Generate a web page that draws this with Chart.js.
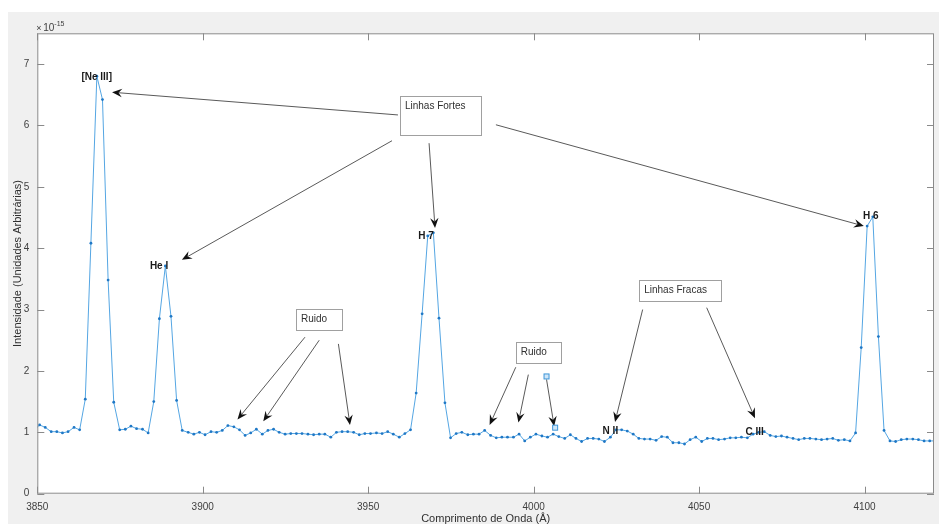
<!DOCTYPE html>
<html>
<head>
<meta charset="utf-8">
<script src="https://cdn.jsdelivr.net/npm/chart.js@4.4.1/dist/chart.umd.min.js"></script>
<style>
  html, body { margin: 0; padding: 0; background: #fff; }
  canvas { display: block; }
</style>
</head>
<body>
<canvas id="espectro" width="939" height="524"></canvas>
<script>
// comprimento de onda de cada amostra (Å)
const comprimentos = [
  3849.0, 3850.7, 3852.4, 3854.2, 3855.9, 3857.6, 3859.3, 3861.1, 3862.8, 3864.5,
  3866.2, 3868.0, 3869.7, 3871.4, 3873.1, 3874.9, 3876.6, 3878.3, 3880.0, 3881.8,
  3883.5, 3885.2, 3886.9, 3888.7, 3890.4, 3892.1, 3893.8, 3895.6, 3897.3, 3899.0,
  3900.7, 3902.5, 3904.2, 3905.9, 3907.6, 3909.4, 3911.1, 3912.8, 3914.5, 3916.2,
  3918.0, 3919.7, 3921.4, 3923.1, 3924.9, 3926.6, 3928.3, 3930.0, 3931.8, 3933.5,
  3935.2, 3936.9, 3938.7, 3940.4, 3942.1, 3943.8, 3945.6, 3947.3, 3949.0, 3950.7,
  3952.5, 3954.2, 3955.9, 3957.6, 3959.4, 3961.1, 3962.8, 3964.5, 3966.3, 3968.0,
  3969.7, 3971.4, 3973.2, 3974.9, 3976.6, 3978.3, 3980.1, 3981.8, 3983.5, 3985.2,
  3987.0, 3988.7, 3990.4, 3992.1, 3993.9, 3995.6, 3997.3, 3999.0, 4000.7, 4002.5,
  4004.2, 4005.9, 4007.6, 4009.4, 4011.1, 4012.8, 4014.5, 4016.3, 4018.0, 4019.7,
  4021.4, 4023.2, 4024.9, 4026.6, 4028.3, 4030.1, 4031.8, 4033.5, 4035.2, 4037.0,
  4038.7, 4040.4, 4042.1, 4043.9, 4045.6, 4047.3, 4049.0, 4050.8, 4052.5, 4054.2,
  4055.9, 4057.7, 4059.4, 4061.1, 4062.8, 4064.6, 4066.3, 4068.0, 4069.7, 4071.5,
  4073.2, 4074.9, 4076.6, 4078.4, 4080.1, 4081.8, 4083.5, 4085.3, 4087.0, 4088.7,
  4090.4, 4092.1, 4093.9, 4095.6, 4097.3, 4099.0, 4100.8, 4102.5, 4104.2, 4105.9,
  4107.7, 4109.4, 4111.1, 4112.8, 4114.6, 4116.3, 4118.0, 4119.7, 4121.5
];

// intensidade (x 1e-15, unidades arbitrárias)
const intensidades = [
  1.03, 1.12, 1.08, 1.01, 1.01, 0.99, 1.01, 1.08, 1.04, 1.54,
  4.08, 6.80, 6.42, 3.48, 1.49, 1.04, 1.05, 1.10, 1.06, 1.05,
  0.99, 1.50, 2.85, 3.71, 2.89, 1.52, 1.03, 1.00, 0.97, 1.00,
  0.96, 1.01, 1.00, 1.03, 1.11, 1.09, 1.04, 0.95, 0.99, 1.05,
  0.97, 1.03, 1.05, 1.00, 0.97, 0.98, 0.98, 0.98, 0.97, 0.96,
  0.97, 0.97, 0.92, 1.00, 1.01, 1.01, 1.00, 0.96, 0.98, 0.98,
  0.99, 0.98, 1.01, 0.97, 0.92, 0.98, 1.04, 1.64, 2.93, 4.20,
  4.25, 2.86, 1.48, 0.91, 0.98, 1.00, 0.96, 0.97, 0.97, 1.03,
  0.95, 0.91, 0.92, 0.92, 0.92, 0.97, 0.86, 0.92, 0.97, 0.94,
  0.92, 0.97, 0.93, 0.90, 0.96, 0.90, 0.85, 0.90, 0.90, 0.89,
  0.85, 0.92, 1.04, 1.04, 1.02, 0.97, 0.90, 0.89, 0.89, 0.87,
  0.93, 0.92, 0.83, 0.83, 0.81, 0.88, 0.92, 0.85, 0.90, 0.90,
  0.88, 0.89, 0.91, 0.91, 0.92, 0.91, 0.97, 1.00, 1.01, 0.95,
  0.93, 0.94, 0.92, 0.90, 0.88, 0.90, 0.90, 0.89, 0.88, 0.89,
  0.90, 0.87, 0.88, 0.86, 0.99, 2.38, 4.36, 4.51, 2.56, 1.03,
  0.86, 0.85, 0.88, 0.89, 0.89, 0.88, 0.86, 0.86, 0.86
];

const ticksX = [3850, 3900, 3950, 4000, 4050, 4100];
const ticksY = [0, 1, 2, 3, 4, 5, 6, 7];

// identificação das linhas (posição em Å / intensidade)
const linhas = [
  { texto: '[Ne III]', x: 3867.95, y: 6.78 },
  { texto: 'He I', x: 3886.8, y: 3.71 },
  { texto: 'H 7', x: 3967.5, y: 4.19 },
  { texto: 'H 6', x: 4101.9, y: 4.52 },
  { texto: 'N II', x: 4023.2, y: 1.02 },
  { texto: 'C III', x: 4066.8, y: 1.00 }
];

// caixas de texto: canto superior esquerdo e inferior direito
const caixas = [
  { texto: 'Linhas Fortes', x0: 3959.6, y0: 6.48, x1: 3984.1, y1: 5.85 },
  { texto: 'Ruido', x0: 3928.2, y0: 3.01, x1: 3942.0, y1: 2.67 },
  { texto: 'Ruido', x0: 3994.6, y0: 2.47, x1: 4008.3, y1: 2.13 },
  { texto: 'Linhas Fracas', x0: 4031.9, y0: 3.48, x1: 4056.8, y1: 3.14 }
];

// setas: origem -> ponta
const setas = [
  { de: [3959.0, 6.17], para: [3872.6, 6.54] },
  { de: [3957.2, 5.75], para: [3893.7, 3.81] },
  { de: [3968.4, 5.71], para: [3970.2, 4.33] },
  { de: [3988.6, 6.01], para: [4099.8, 4.36] },
  { de: [3930.9, 2.55], para: [3910.5, 1.21] },
  { de: [3935.2, 2.50], para: [3918.3, 1.18] },
  { de: [3941.0, 2.44], para: [3944.5, 1.12] },
  { de: [3994.6, 2.06], para: [3986.7, 1.12] },
  { de: [3998.4, 1.94], para: [3995.4, 1.16] },
  { de: [4003.9, 1.91], para: [4006.2, 1.10], marcas: true },
  { de: [4032.95, 3.00], para: [4024.6, 1.17] },
  { de: [4052.3, 3.03], para: [4066.9, 1.23] }
];

const FONTE = '"Liberation Sans", Arial, Helvetica, sans-serif';
Chart.defaults.font.family = FONTE;

function desenhaSeta(ctx, x0, y0, x1, y1) {
  const ang = Math.atan2(y1 - y0, x1 - x0);
  const L = 10, W = 4.2, recuo = 6.5;
  const c = Math.cos(ang), s = Math.sin(ang);
  const pt = (a, b) => [x1 + a * c - b * s, y1 + a * s + b * c];
  const base = pt(-recuo, 0);
  ctx.strokeStyle = '#5a5a5a';
  ctx.lineWidth = 1;
  ctx.beginPath();
  ctx.moveTo(x0, y0);
  ctx.lineTo(base[0], base[1]);
  ctx.stroke();
  const p1 = pt(-L, -W), p2 = pt(-L, W);
  ctx.fillStyle = '#111';
  ctx.beginPath();
  ctx.moveTo(x1, y1);
  ctx.lineTo(p1[0], p1[1]);
  ctx.lineTo(base[0], base[1]);
  ctx.lineTo(p2[0], p2[1]);
  ctx.closePath();
  ctx.fill();
}

function quadrado(ctx, x, y) {
  ctx.fillStyle = '#cfe6f8';
  ctx.strokeStyle = '#3d95d8';
  ctx.lineWidth = 1;
  ctx.fillRect(x - 2.5, y - 2.5, 5, 5);
  ctx.strokeRect(x - 2.5, y - 2.5, 5, 5);
}

const moldura = {
  id: 'moldura',
  beforeDraw(chart) {
    const { ctx, chartArea: a } = chart;
    ctx.save();
    ctx.fillStyle = '#ffffff';
    ctx.fillRect(0, 0, chart.width, chart.height);
    ctx.fillStyle = '#f0f0f0';
    ctx.fillRect(8, 12, chart.width - 8, chart.height - 12);
    ctx.fillStyle = '#ffffff';
    ctx.fillRect(a.left, a.top, a.right - a.left, a.bottom - a.top);
    ctx.restore();
  },
  afterDraw(chart) {
    const { ctx, chartArea: a } = chart;
    const sx = chart.scales.x, sy = chart.scales.y;
    const T = 7;
    ctx.save();

    // caixa dos eixos e marcas internas
    ctx.strokeStyle = '#8a8a8a';
    ctx.lineWidth = 1;
    ctx.strokeRect(a.left + 0.5, a.top + 0.5, a.right - a.left - 1, a.bottom - a.top - 1);
    ctx.beginPath();
    sx.ticks.forEach(t => {
      const px = Math.round(sx.getPixelForValue(t.value)) + 0.5;
      ctx.moveTo(px, a.bottom); ctx.lineTo(px, a.bottom - T);
      ctx.moveTo(px, a.top); ctx.lineTo(px, a.top + T);
    });
    sy.ticks.forEach(t => {
      const py = Math.round(sy.getPixelForValue(t.value)) + 0.5;
      ctx.moveTo(a.left, py); ctx.lineTo(a.left + T, py);
      ctx.moveTo(a.right, py); ctx.lineTo(a.right - T, py);
    });
    ctx.stroke();

    // fator de escala do eixo y
    ctx.fillStyle = '#404040';
    ctx.textBaseline = 'alphabetic';
    ctx.textAlign = 'left';
    ctx.font = '9px ' + FONTE;
    ctx.fillText('\u00d7', a.left - 1, 31);
    ctx.font = '10px ' + FONTE;
    ctx.fillText('10', a.left + 6, 31);
    ctx.font = '7px ' + FONTE;
    ctx.fillText('-15', a.left + 17, 26);

    // caixas de texto
    caixas.forEach(c => {
      const x0 = sx.getPixelForValue(c.x0), x1 = sx.getPixelForValue(c.x1);
      const y0 = sy.getPixelForValue(c.y0), y1 = sy.getPixelForValue(c.y1);
      ctx.fillStyle = '#ffffff';
      ctx.fillRect(x0, y0, x1 - x0, y1 - y0);
      ctx.strokeStyle = '#a0a0a0';
      ctx.strokeRect(Math.round(x0) + 0.5, Math.round(y0) + 0.5, Math.round(x1 - x0), Math.round(y1 - y0));
      ctx.fillStyle = '#303030';
      ctx.font = '10px ' + FONTE;
      ctx.textAlign = 'left';
      ctx.textBaseline = 'middle';
      ctx.fillText(c.texto, x0 + 5, y0 + 10.5);
    });

    // setas
    setas.forEach(s => {
      const x0 = sx.getPixelForValue(s.de[0]), y0 = sy.getPixelForValue(s.de[1]);
      const x1 = sx.getPixelForValue(s.para[0]), y1 = sy.getPixelForValue(s.para[1]);
      desenhaSeta(ctx, x0, y0 + (s.marcas ? 3 : 0), x1, y1);
      if (s.marcas) {
        quadrado(ctx, x0, y0);
        quadrado(ctx, x1 + 1, y1 + 1.5);
      }
    });

    // nomes das linhas espectrais
    ctx.fillStyle = '#1a1a1a';
    ctx.font = 'bold 10px ' + FONTE;
    ctx.textAlign = 'center';
    ctx.textBaseline = 'middle';
    linhas.forEach(l => {
      ctx.fillText(l.texto, sx.getPixelForValue(l.x), sy.getPixelForValue(l.y));
    });

    ctx.restore();
  }
};

new Chart(document.getElementById('espectro'), {
  type: 'line',
  data: {
    datasets: [{
      data: comprimentos.map((x, i) => ({ x: x, y: intensidades[i] })),
      borderColor: '#55a6e3',
      borderWidth: 1,
      pointRadius: 1.4,
      pointBackgroundColor: '#1f78c6',
      pointBorderWidth: 0,
      pointHoverRadius: 0,
      tension: 0,
      fill: false,
      clip: 0
    }]
  },
  options: {
    responsive: false,
    animation: false,
    events: [],
    layout: { padding: { top: 33.3, right: 5, left: 0, bottom: 0 } },
    plugins: { legend: { display: false }, tooltip: { enabled: false } },
    scales: {
      x: {
        type: 'linear',
        min: 3850,
        max: 4121,
        afterBuildTicks: s => { s.ticks = ticksX.map(v => ({ value: v })); },
        afterFit: s => { s.height = 30.3; },
        grid: { display: false, drawTicks: false },
        border: { display: false },
        ticks: {
          autoSkip: false,
          maxRotation: 0,
          padding: 7.5,
          color: '#404040',
          font: { size: 10 },
          callback: v => String(v)
        },
        title: {
          display: true,
          text: 'Comprimento de Onda (Å)',
          color: '#303030',
          font: { size: 11, lineHeight: 1 },
          padding: 0
        }
      },
      y: {
        min: 0,
        max: 7.5,
        afterBuildTicks: s => { s.ticks = ticksY.map(v => ({ value: v })); },
        afterFit: s => { s.width = 37.3; },
        grid: { display: false, drawTicks: false },
        border: { display: false },
        ticks: {
          padding: 8,
          color: '#404040',
          font: { size: 10 },
          callback: v => String(v)
        },
        title: {
          display: true,
          text: 'Intensidade (Unidades Arbitrárias)',
          color: '#303030',
          font: { size: 11, lineHeight: 1.2 },
          padding: { top: 11, bottom: 0 }
        }
      }
    }
  },
  plugins: [moldura]
});
</script>
</body>
</html>
